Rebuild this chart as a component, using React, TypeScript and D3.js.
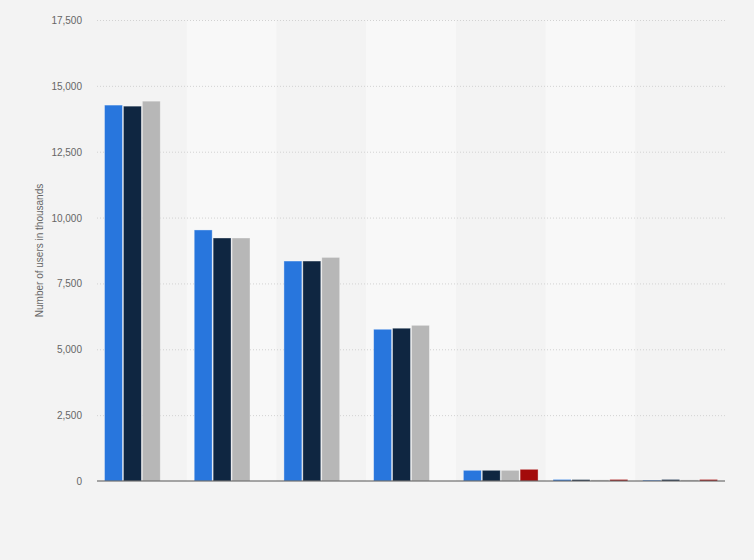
import React, { useEffect, useRef } from 'react';
import * as d3 from 'd3';

const categories = ['Group 1', 'Group 2', 'Group 3', 'Group 4', 'Group 5', 'Group 6', 'Group 7'];
const seriesNames = ['Series 1', 'Series 2', 'Series 3', 'Series 4'];
const seriesColors = ['#2876dd', '#0f2641', '#b7b7b7', '#a30b0b'];

const series1 = [14270, 9530, 8350, 5760, 406, 60, 35];
const series2 = [14230, 9225, 8350, 5800, 406, 55, 60];
const series3 = [14420, 9225, 8490, 5910, 406, 45, 45];
const series4: (number | null)[] = [null, null, null, null, 444, 60, 60];

const yTicks = [0, 2500, 5000, 7500, 10000, 12500, 15000, 17500];
const yLabel = 'Number of users in thousands';

const W = 754;
const H = 560;

const App: React.FC = () => {
  const svgRef = useRef<SVGSVGElement | null>(null);

  useEffect(() => {
    if (!svgRef.current) return;
    const svg = d3.select(svgRef.current);
    svg.selectAll('*').remove();

    const left = 97;
    const right = 725;
    const top = 20;
    const bottom = 481;

    svg.append('rect').attr('width', W).attr('height', H).attr('fill', '#f3f3f3');

    const x0 = d3.scaleBand<string>().domain(categories).range([left, right]);
    const x1 = d3
      .scaleBand<string>()
      .domain(seriesNames)
      .range([7.5, x0.bandwidth() - 7.5])
      .paddingInner(0.05);
    const y = d3.scaleLinear().domain([0, 17500]).range([bottom, top]);

    // alternating bands
    svg
      .selectAll('.band')
      .data(categories.filter((_, i) => i % 2 === 1))
      .enter()
      .append('rect')
      .attr('x', (d) => x0(d)!)
      .attr('y', top)
      .attr('width', x0.bandwidth())
      .attr('height', bottom - top)
      .attr('fill', '#f8f8f8');

    // grid
    svg
      .selectAll('.grid')
      .data(yTicks.filter((t) => t > 0))
      .enter()
      .append('line')
      .attr('x1', left)
      .attr('x2', right)
      .attr('y1', (d) => y(d) + 0.5)
      .attr('y2', (d) => y(d) + 0.5)
      .attr('stroke', '#d2d2d2')
      .attr('stroke-dasharray', '1,2');

    svg
      .selectAll('.tick')
      .data(yTicks)
      .enter()
      .append('text')
      .attr('x', 82)
      .attr('y', (d) => y(d) + 4)
      .attr('text-anchor', 'end')
      .attr('font-family', 'Arial, "Liberation Sans", sans-serif')
      .attr('font-size', 10)
      .attr('fill', '#666')
      .text((d) => d3.format(',')(d));

    svg
      .append('text')
      .attr('transform', `translate(43,${(top + bottom) / 2}) rotate(-90)`)
      .attr('text-anchor', 'middle')
      .attr('font-family', 'Arial, "Liberation Sans", sans-serif')
      .attr('font-size', 10)
      .attr('fill', '#666')
      .text(yLabel);

    const allSeries = [series1, series2, series3, series4];
    const groups = svg
      .selectAll('.grp')
      .data(categories)
      .enter()
      .append('g')
      .attr('transform', (d) => `translate(${x0(d)},0)`);

    groups.each(function (_, ci) {
      const g = d3.select(this);
      allSeries.forEach((s, si) => {
        const v = s[ci];
        if (v == null) return;
        g.append('rect')
          .attr('x', x1(seriesNames[si])!)
          .attr('y', y(v))
          .attr('width', x1.bandwidth())
          .attr('height', bottom - y(v))
          .attr('fill', seriesColors[si])
          .attr('stroke', 'rgba(255,255,255,0.45)')
          .attr('stroke-width', 0.8);
      });
    });

    svg
      .append('line')
      .attr('x1', left)
      .attr('x2', right)
      .attr('y1', bottom)
      .attr('y2', bottom)
      .attr('stroke', '#555')
      .attr('stroke-width', 1.2);
  }, []);

  return (
    <svg
      ref={svgRef}
      width={W}
      height={H}
      style={{ position: 'absolute', left: 0, top: 0 }}
    />
  );
};

export default App;
